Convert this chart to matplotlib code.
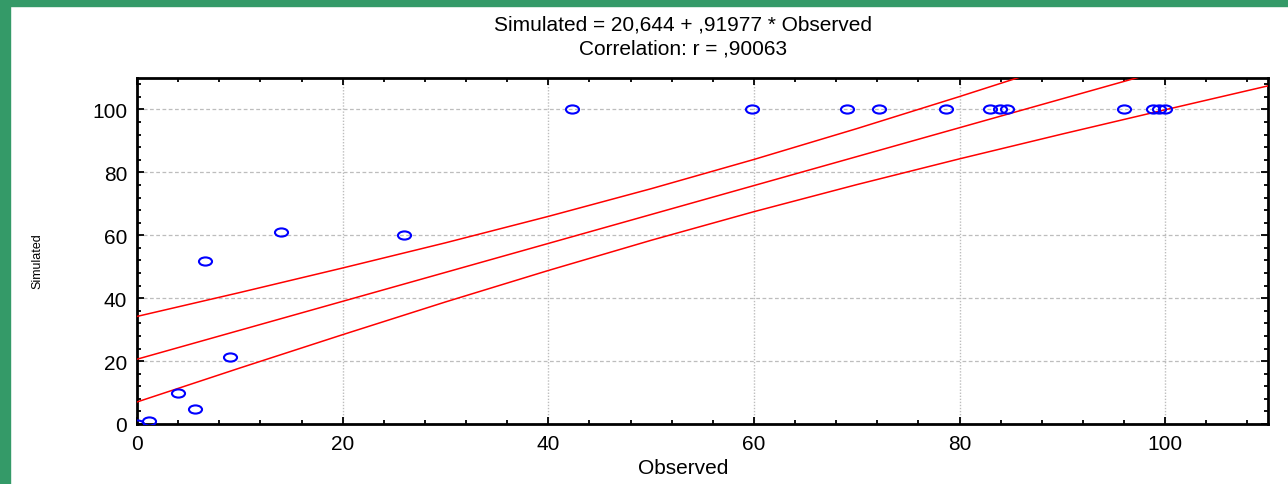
import numpy as np
import matplotlib
matplotlib.use("Agg")
import matplotlib.pyplot as plt
from matplotlib.path import Path
from matplotlib.patches import Rectangle
from matplotlib.ticker import MultipleLocator

plt.rcParams['font.family'] = ['Liberation Sans', 'DejaVu Sans']

# observed / simulated pairs
observed = [0, 1.2, 4.0, 5.6, 6.6, 9.0, 14.0, 26.0, 42.3, 59.8,
            69.1, 72.2, 78.7, 83.0, 83.9, 84.6, 96.0, 98.8, 99.4, 100.0]
simulated = [0, 1.0, 10.0, 4.8, 51.8, 21.2, 61.0, 60.0, 100, 100,
             100, 100, 100, 100, 100, 100, 100, 100, 100, 100]

# regression line and its 95% band, read at these x values
band_x = [0, 10, 20, 30, 40, 50, 60, 70, 80, 90, 100, 110]
fit_y = [20.6, 29.8, 39.0, 48.2, 57.4, 66.6, 75.8, 85.0, 94.2, 103.4, 112.6, 121.8]
upper_y = [34.2, 41.8, 49.6, 57.6, 66.0, 74.8, 84.1, 93.9, 104.1, 114.6, 125.3, 136.1]
lower_y = [7.0, 17.8, 28.4, 38.8, 48.8, 58.4, 67.5, 76.1, 84.3, 92.2, 99.9, 107.5]

title1 = "Simulated = 20,644 + ,91977 * Observed"
title2 = "Correlation: r = ,90063"

fig = plt.figure(figsize=(12.88, 4.85), dpi=100)
# green frame on top and left
fig.patches.append(Rectangle((0, 1 - 7 / 485), 1, 7 / 485, transform=fig.transFigure,
                             color='#349a68', zorder=0))
fig.patches.append(Rectangle((0, 0), 10 / 1288, 1, transform=fig.transFigure,
                             color='#349a68', zorder=0))

ax = fig.add_axes([137 / 1288, 60 / 485, 1131 / 1288, 346 / 485])

# open ellipse marker like the original
ell = Path(Path.unit_circle().vertices * [1.6, 1.0], Path.unit_circle().codes)

for ys in (upper_y, fit_y, lower_y):
    ax.plot(band_x, ys, color='red', lw=1.1, zorder=3)
ax.plot(observed, simulated, ls='none', marker=ell, ms=9.4, mfc='none',
        mec='blue', mew=1.5, zorder=4)

ax.set_xlim(0, 110)
ax.set_ylim(0, 110)
ax.xaxis.set_major_locator(MultipleLocator(20))
ax.yaxis.set_major_locator(MultipleLocator(20))
ax.xaxis.set_minor_locator(MultipleLocator(4))
ax.yaxis.set_minor_locator(MultipleLocator(4))
ax.tick_params(which='both', direction='in', top=True, right=True, labelsize=15,
               width=1.3, color='black')
ax.tick_params(which='major', length=5, pad=7)
ax.tick_params(which='minor', length=3)
for s in ax.spines.values():
    s.set_linewidth(2)

ax.grid(axis='y', which='major', color='#bdbdbd', ls=(0, (3, 2)), lw=0.9)
ax.grid(axis='x', which='major', color='#bdbdbd', ls=(0, (1, 1.2)), lw=1.0)
ax.set_axisbelow(True)

fig.text(683 / 1288, 1 - 25 / 485, title1, ha='center', va='center', fontsize=15)
fig.text(683 / 1288, 1 - 49 / 485, title2, ha='center', va='center', fontsize=15)
fig.text(683 / 1288, 1 - 469 / 485, "Observed", ha='center', va='center', fontsize=15)
fig.text(37 / 1288, 1 - 261 / 485, "Simulated", ha='center', va='center',
         rotation=90, fontsize=9)

fig.savefig("out.png", dpi=100)
